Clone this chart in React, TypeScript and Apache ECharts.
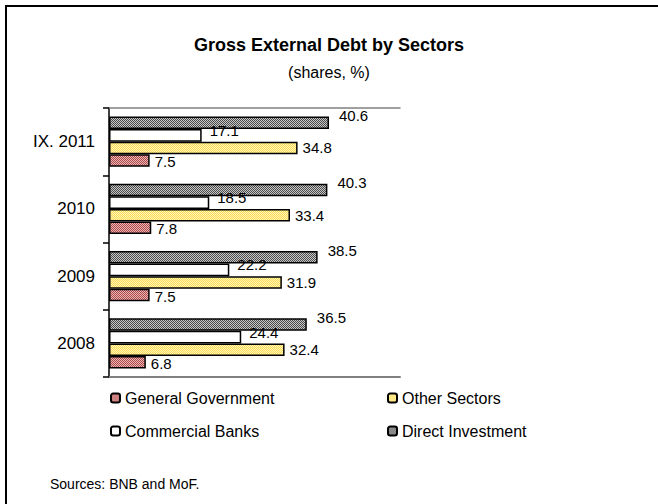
import React, { useEffect, useRef } from 'react';
import * as echarts from 'echarts';

const categories = ['2008', '2009', '2010', 'IX. 2011'];
const seriesNames = ['General Government', 'Other Sectors', 'Commercial Banks', 'Direct Investment'];
const generalGovernment = [6.8, 7.5, 7.8, 7.5];
const otherSectors = [32.4, 31.9, 33.4, 34.8];
const commercialBanks = [24.4, 22.2, 18.5, 17.1];
const directInvestment = [36.5, 38.5, 40.3, 40.6];

const FONT = "'Liberation Sans', Arial, Helvetica, sans-serif";

function makePattern(rows: string[][]) {
  const c = document.createElement('canvas');
  c.width = rows[0].length;
  c.height = rows.length;
  const ctx = c.getContext('2d');
  if (ctx) {
    rows.forEach((row, y) => row.forEach((col, x) => {
      ctx.fillStyle = col;
      ctx.fillRect(x, y, 1, 1);
    }));
  }
  return c;
}

export default function App() {
  const ref = useRef<HTMLDivElement>(null);
  useEffect(() => {
    if (!ref.current) return;
    const chart = echarts.init(ref.current, undefined, { renderer: 'svg' });

    const G1 = '#4a4a4a', G2 = '#c8c8c8';
    const grayPat = makePattern([[G1, G2], [G2, G1]]);
    const Y1 = '#ffdc55', Y2 = '#fff4b8';
    const yellowPat = makePattern([[Y1, Y2], [Y2, Y1]]);
    const R1 = '#b04848', R2 = '#e8b8b8';
    const redPat = makePattern([[R1, R2], [R2, R1]]);

    const fmt = (p: any) => Number(p.value).toFixed(1);
    const baseLabel = { show: true, position: 'right', distance: 5, fontSize: 15, color: '#000', fontFamily: FONT, formatter: fmt };
    const border = { borderColor: '#000', borderWidth: 1.5 };
    const legendText = { fontSize: 16, color: '#000', fontFamily: FONT, lineHeight: 16 };

    chart.setOption({
      animation: false,
      backgroundColor: '#fff',
      textStyle: { fontFamily: FONT },
      title: [
        { text: 'Gross External Debt by Sectors', left: 'center', top: 31, textStyle: { fontSize: 18, fontWeight: 'bold', color: '#000', fontFamily: FONT } },
        { text: '(shares, %)', left: 'center', top: 59, textStyle: { fontSize: 16, fontWeight: 'normal', color: '#000', fontFamily: FONT } },
        { text: 'Sources: BNB and MoF.', left: 50, top: 477, padding: 0, textStyle: { fontSize: 14, fontWeight: 'normal', color: '#000', fontFamily: FONT } },
      ],
      graphic: [
        { type: 'rect', shape: { x: 6, y: 6, width: 720, height: 620 }, style: { fill: 'none', stroke: '#000', lineWidth: 2 }, silent: true },
      ],
      legend: [
        { data: [seriesNames[0], seriesNames[2]], orient: 'vertical', left: 105, top: 385, itemWidth: 9, itemHeight: 9, itemGap: 17, textStyle: legendText },
        { data: [seriesNames[1], seriesNames[3]], orient: 'vertical', left: 382, top: 385, itemWidth: 9, itemHeight: 9, itemGap: 17, textStyle: legendText },
      ],
      grid: { left: 109, top: 108, width: 291, height: 269, containLabel: false },
      xAxis: [
        { type: 'value', min: 0, max: 53.7, position: 'bottom', axisLine: { show: true, lineStyle: { color: '#808080', width: 2 } },
          axisTick: { show: false }, axisLabel: { show: false }, splitLine: { show: false } },
        { type: 'value', min: 0, max: 53.7, position: 'top', axisLine: { show: true, lineStyle: { color: '#808080', width: 1.5 } },
          axisTick: { show: false }, axisLabel: { show: false }, splitLine: { show: false } },
      ],
      yAxis: {
        type: 'category', data: categories,
        axisLine: { show: true, lineStyle: { color: '#000', width: 1.5 } },
        axisTick: { show: true, length: 6, lineStyle: { color: '#000', width: 1.5 } },
        axisLabel: { fontSize: 17, color: '#000', margin: 14, fontFamily: FONT },
      },
      series: [
        { name: seriesNames[3], type: 'bar', data: directInvestment, barGap: '0%', barCategoryGap: '25%',
          itemStyle: { color: { image: grayPat, repeat: 'repeat' }, ...border },
          label: { ...baseLabel, offset: [5, -7] } },
        { name: seriesNames[2], type: 'bar', data: commercialBanks, barGap: '0%', barCategoryGap: '25%',
          itemStyle: { color: '#fff', ...border },
          label: { ...baseLabel, offset: [3, -5] } },
        { name: seriesNames[1], type: 'bar', data: otherSectors, barGap: '0%', barCategoryGap: '25%',
          itemStyle: { color: { image: yellowPat, repeat: 'repeat' }, ...border },
          label: { ...baseLabel, offset: [0, 0] } },
        { name: seriesNames[0], type: 'bar', data: generalGovernment, barGap: '0%', barCategoryGap: '25%',
          itemStyle: { color: { image: redPat, repeat: 'repeat' }, ...border },
          label: { ...baseLabel, offset: [0, 1] } },
      ],
    });
    return () => chart.dispose();
  }, []);
  return <div ref={ref} style={{ position: 'fixed', left: 0, top: 0, width: 658, height: 504 }} />;
}
